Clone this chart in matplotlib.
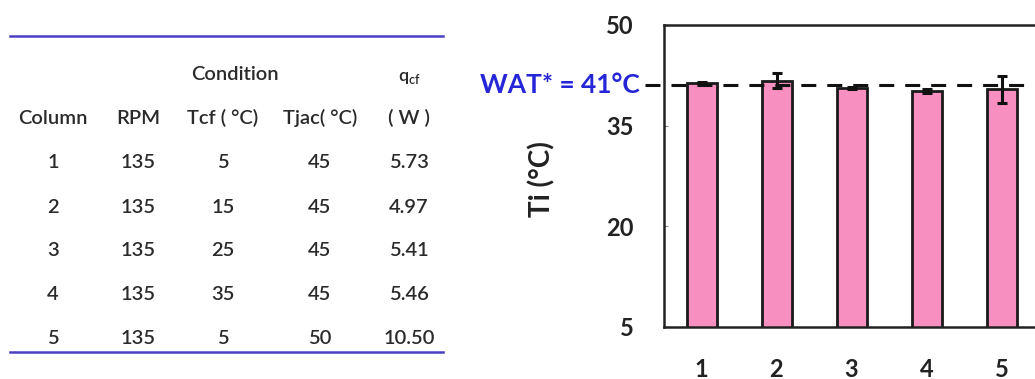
import matplotlib
matplotlib.use("Agg")
import matplotlib.pyplot as plt
import matplotlib.transforms as mtransforms

# table data
col_ids = ["1", "2", "3", "4", "5"]
rpm = [135, 135, 135, 135, 135]
tcf = [5, 15, 25, 35, 5]
tjac = [45, 45, 45, 45, 50]
q_cf = ["5.73", "4.97", "5.41", "5.46", "10.50"]

# bar chart data
columns = [1, 2, 3, 4, 5]
ti_mean = [41.4, 41.7, 40.6, 40.2, 40.4]
ti_err = [0.1, 1.1, 0.2, 0.3, 2.0]
wat = 41

plt.rcParams["font.family"] = ["Lato", "DejaVu Sans"]

W, H = 1035, 379
fig = plt.figure(figsize=(W / 100, H / 100), dpi=100)


def fx(px):
    return px / W


def fy(py):
    return 1 - py / H


# ---- table on the left ----
tcol = "#2a2a2a"
tsize = 14.5
tweight = "semibold"
line_col = "#4a40c4"
fig.add_artist(plt.Line2D([fx(10), fx(443)], [fy(36), fy(36)], color=line_col, lw=1.8))
fig.add_artist(plt.Line2D([fx(10), fx(443)], [fy(352), fy(352)], color=line_col, lw=1.8))

col_x = [53, 138, 223, 320, 409]
fig.text(fx(235), fy(75), "Condition", ha="center", va="center", fontsize=tsize,
         color=tcol, fontweight=tweight)
fig.text(fx(409), fy(78), r"q$_{\mathregular{cf}}$", ha="center", va="center",
         fontsize=13, color=tcol, fontweight=tweight)
headers = ["Column", "RPM", "Tcf ( °C)", "Tjac( °C)", "( W )"]
for x, h in zip(col_x, headers):
    fig.text(fx(x), fy(118), h, ha="center", va="center", fontsize=tsize,
             color=tcol, fontweight=tweight)

row_y = [163, 207, 251, 295, 338]
for i, y in enumerate(row_y):
    vals = [col_ids[i], str(rpm[i]), str(tcf[i]), str(tjac[i]), q_cf[i]]
    for x, v in zip(col_x, vals):
        fig.text(fx(x), fy(y), v, ha="center", va="center", fontsize=tsize,
                 color=tcol, fontweight=tweight)

# ---- bar chart on the right ----
ax = fig.add_axes([fx(664), fy(327), 375 / W, 302 / H])
ax.bar(columns, ti_mean, width=0.4, color="#f78fc0", edgecolor="#1a1a1a", linewidth=2, zorder=2)
ax.errorbar(columns, ti_mean, yerr=ti_err, fmt="none", ecolor="#111111",
            elinewidth=2.2, capsize=3.5, capthick=2.2, zorder=4)

trans = mtransforms.blended_transform_factory(ax.transAxes, ax.transData)
ax.plot([-0.05, 0.968], [wat, wat], transform=trans, color="#111111", lw=2.2,
        dashes=(4.9, 3.6), clip_on=False, zorder=3)
ax.text(-0.064, wat, f"WAT* = {wat}°C", transform=trans, ha="right", va="center",
        fontsize=19, fontweight="bold", color="#2626d9")

ax.set_xlim(0.5, 5.5)
ax.set_ylim(5, 50)
ax.set_yticks([5, 20, 35, 50])
ax.set_xticks(columns)
ax.tick_params(axis="y", direction="in", length=3, width=0.8, color="#888888",
               labelsize=17, pad=22)
ax.tick_params(axis="x", length=0, labelsize=17, pad=22)
for lab in ax.get_xticklabels() + ax.get_yticklabels():
    lab.set_fontweight("bold")
    lab.set_color("#222222")
for sp in ax.spines.values():
    sp.set_linewidth(1.8)
    sp.set_color("#222222")

ax.set_ylabel("Ti (°C)", fontsize=20, fontweight="bold", color="#222222")
ax.yaxis.set_label_coords(-0.29, 0.49)

fig.savefig("out.png", dpi=100)
